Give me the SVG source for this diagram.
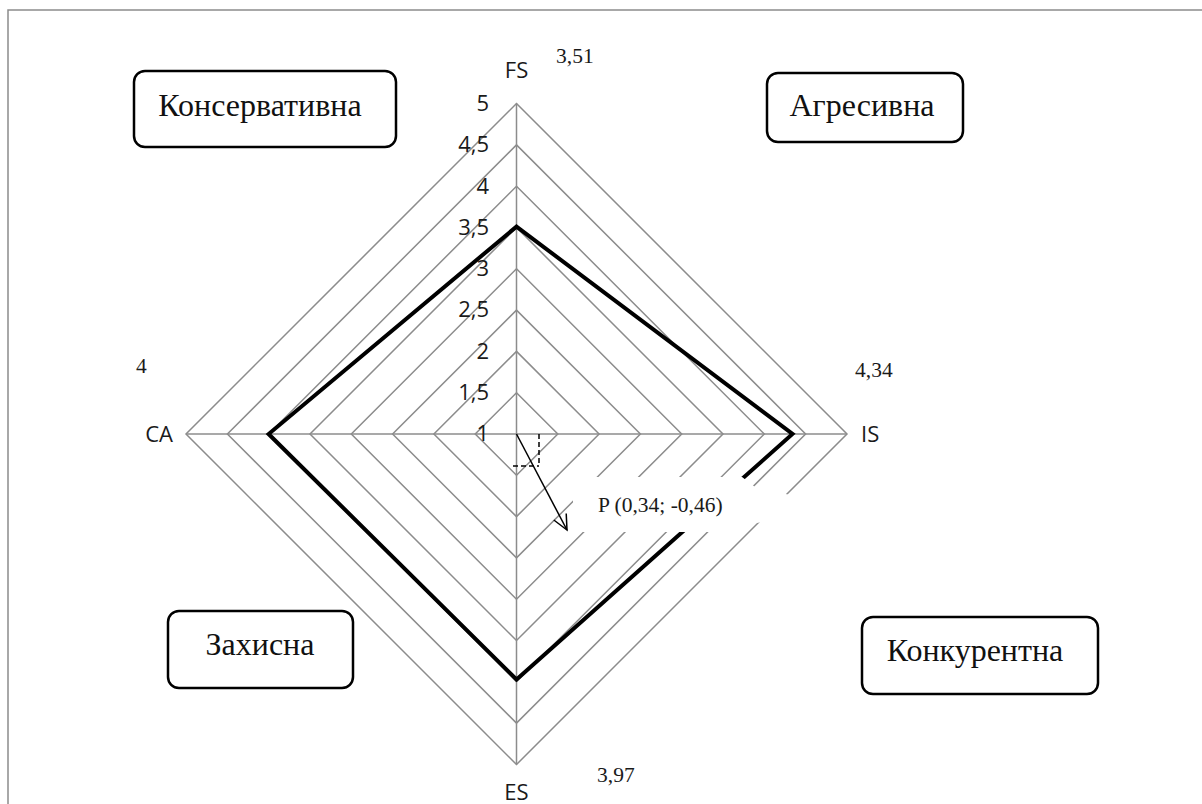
<svg xmlns="http://www.w3.org/2000/svg" width="1202" height="804" viewBox="0 0 1202 804">
<defs>
<style>
.grid{fill:none;stroke:#8c8c8c;stroke-width:1.5}
.ax{stroke:#8c8c8c;stroke-width:1.5}
.tick{font-family:"Open Sans","Liberation Sans",sans-serif;font-size:22px;fill:#1a1a1a;text-anchor:end}
.axl{font-family:"Open Sans","Liberation Sans",sans-serif;font-size:22px;fill:#1a1a1a}
.val{font-family:"Liberation Serif","Times New Roman",serif;font-size:21.5px;fill:#1a1a1a}
.box{fill:#fff;stroke:#000;stroke-width:2.5}
.bt{font-family:"Liberation Serif","Times New Roman",serif;font-size:32px;fill:#111;text-anchor:middle}
.dash{stroke:#000;stroke-width:1.5;stroke-dasharray:5 3;fill:none}
</style>
<marker id="arr" markerWidth="20" markerHeight="20" refX="16" refY="10" orient="auto" markerUnits="userSpaceOnUse">
<path d="M1,3 L16,10 L1,17" fill="none" stroke="#000" stroke-width="1.5"/>
</marker>
</defs>
<rect width="1202" height="804" fill="#fff"/>
<path d="M8,804 V10 H1202" fill="none" stroke="#8c8c8c" stroke-width="1.5"/>

<g id="grid">
<polygon class="grid" points="516.5,392.7 557.8,434 516.5,475.3 475.2,434"/>
<polygon class="grid" points="516.5,351.4 599.1,434 516.5,516.6 433.9,434"/>
<polygon class="grid" points="516.5,310.1 640.4,434 516.5,557.9 392.6,434"/>
<polygon class="grid" points="516.5,268.8 681.7,434 516.5,599.2 351.3,434"/>
<polygon class="grid" points="516.5,227.5 723,434 516.5,640.5 310,434"/>
<polygon class="grid" points="516.5,186.2 764.3,434 516.5,681.8 268.7,434"/>
<polygon class="grid" points="516.5,144.9 805.6,434 516.5,723.1 227.4,434"/>
<polygon class="grid" points="516.5,103.5 847,434 516.5,764.5 186,434"/>
<line class="ax" x1="516.5" y1="434" x2="516.5" y2="103.5"/>
<line class="ax" x1="516.5" y1="434" x2="847" y2="434"/>
<line class="ax" x1="516.5" y1="434" x2="516.5" y2="764.5"/>
<line class="ax" x1="516.5" y1="434" x2="186" y2="434"/>
</g>

<g id="ticks">
<text class="tick" x="489" y="111">5</text>
<text class="tick" x="489" y="152">4,5</text>
<text class="tick" x="489" y="194">4</text>
<text class="tick" x="489" y="235">3,5</text>
<text class="tick" x="489" y="276">3</text>
<text class="tick" x="489" y="317">2,5</text>
<text class="tick" x="489" y="359">2</text>
<text class="tick" x="489" y="400">1,5</text>
<text class="tick" x="489" y="441">1</text>
</g>

<g id="axis-labels">
<text class="axl" x="516.5" y="78" text-anchor="middle">FS</text>
<text class="axl" x="861" y="442">IS</text>
<text class="axl" x="516.5" y="800" text-anchor="middle">ES</text>
<text class="axl" x="173" y="442" text-anchor="end">CA</text>
<text class="val" x="556" y="63">3,51</text>
<text class="val" x="855" y="377">4,34</text>
<text class="val" x="136" y="373">4</text>
<text class="val" x="597" y="782">3,97</text>
</g>

<g id="data">
<polygon points="516.5,226.6 792.5,434 516.5,679.4 268.6,434" fill="none" stroke="#000" stroke-width="4" stroke-linejoin="miter"/>
</g>

<g id="p-label">
<polygon points="573,477 742,477 755,487 790,495 762,522 712,532 573,532" fill="#fff"/>
<text class="val" x="598" y="512">P (0,34; -0,46)</text>
</g>

<g id="connectors">
<path class="dash" d="M539,434 V466 M513,466 H539"/>
<line x1="516.5" y1="434" x2="567" y2="530" stroke="#000" stroke-width="1.5" marker-end="url(#arr)"/>
</g>

<g id="node-conservative">
<rect class="box" x="134" y="71" width="262" height="76" rx="11"/>
<text class="bt" x="260" y="116">Консервативна</text>
</g>
<g id="node-aggressive">
<rect class="box" x="767" y="73" width="196" height="69" rx="11"/>
<text class="bt" x="862" y="116">Агресивна</text>
</g>
<g id="node-defensive">
<rect class="box" x="168" y="611" width="185" height="77" rx="11"/>
<text class="bt" x="260" y="655">Захисна</text>
</g>
<g id="node-competitive">
<rect class="box" x="862" y="617" width="236" height="77" rx="11"/>
<text class="bt" x="975" y="661">Конкурентна</text>
</g>
</svg>
